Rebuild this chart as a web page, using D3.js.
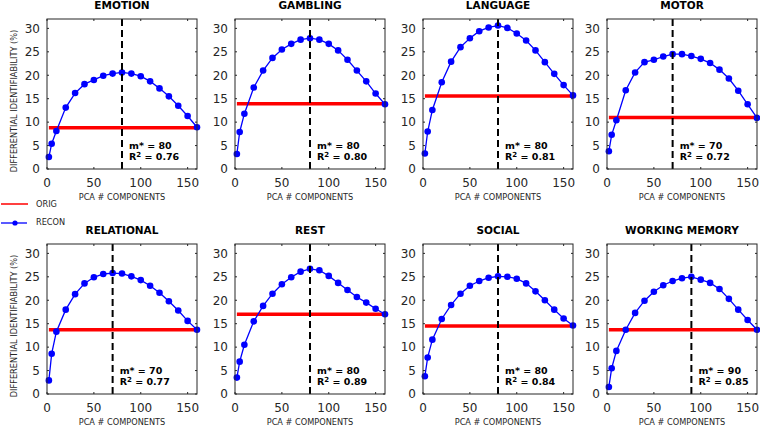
<!DOCTYPE html>
<html><head><meta charset="utf-8">
<script src="https://cdn.jsdelivr.net/npm/d3@7"></script>
<style>body{margin:0;background:#fff}svg{display:block}text{font-family:"DejaVu Sans",sans-serif}</style>
</head><body>
<script>
const comps = [2,5,10,20,30,40,50,60,70,80,90,100,110,120,130,140,150,160];
const tasks = ["EMOTION","GAMBLING","LANGUAGE","MOTOR","RELATIONAL","REST","SOCIAL","WORKING MEMORY"];
const reconEmotion    = [2.55,5.4,8.1,13.1,16.2,18.1,19.0,19.9,20.35,20.6,20.35,19.8,18.7,17.2,15.5,13.5,11.3,8.9];
const reconGambling   = [3.2,7.9,11.8,17.4,21.0,23.7,25.5,26.7,27.6,27.9,27.6,26.7,25.3,23.3,21.0,18.7,16.1,13.8];
const reconLanguage   = [3.3,8.0,12.6,18.5,22.9,26.0,27.9,29.4,30.2,30.6,30.1,28.9,27.4,25.3,22.8,20.3,17.9,15.7];
const reconMotor      = [3.8,7.3,10.4,16.8,20.6,22.8,23.3,24.0,24.5,24.5,24.1,23.5,22.6,21.2,19.3,16.7,13.8,10.9];
const reconRelational = [2.9,8.6,13.3,18.0,21.3,23.6,24.9,25.6,25.8,25.7,25.1,24.3,23.1,21.6,19.8,17.8,15.6,13.7];
const reconRest       = [3.5,6.9,10.5,15.5,18.8,21.4,23.4,24.9,26.1,26.7,26.4,25.2,23.7,22.2,20.7,19.5,18.2,17.0];
const reconSocial     = [3.8,7.8,11.6,16.0,19.0,21.4,23.1,24.1,24.8,25.1,25.0,24.6,23.6,21.9,20.0,18.0,16.1,14.6];
const reconWM         = [1.5,5.5,9.2,13.7,17.3,19.9,21.8,23.2,24.1,24.7,25.0,24.4,23.7,22.4,20.3,18.0,15.8,13.7];
const reconSeries = [reconEmotion,reconGambling,reconLanguage,reconMotor,reconRelational,reconRest,reconSocial,reconWM];
const origValues = [8.8,13.9,15.6,11.0,13.7,17.0,14.5,13.7];
const mStar = [80,80,80,70,70,80,80,90];
const r2Values = ["0.76","0.80","0.81","0.72","0.77","0.89","0.84","0.85"];
const xTicks = [0,50,100,150];
const yTicks = [0,5,10,15,20,25,30];
const xLabel = "PCA # COMPONENTS";
const yLabel = "DIFFERENTIAL IDENTIFIABILITY (%)";
const legendLabels = ["ORIG","RECON"];

const W = 760, H = 428;
const svg = d3.select("body").append("svg").attr("width", W).attr("height", H);
const colLefts = [47, 235, 423, 607];
const rowTops = [19, 244];
const pw = 150, ph = 150;
const axisCol = "#262626";

tasks.forEach((task, i) => {
  const col = i % 4, row = Math.floor(i / 4);
  const g = svg.append("g").attr("transform", `translate(${colLefts[col]},${rowTops[row]})`);
  const x = d3.scaleLinear().domain([0,160]).range([0,pw]);
  const y = d3.scaleLinear().domain([0,32]).range([ph,0]);

  // ticks inside (bottom/top/left/right)
  const tl = 2;
  xTicks.forEach(t => {
    g.append("line").attr("x1",x(t)).attr("x2",x(t)).attr("y1",ph).attr("y2",ph-tl).attr("stroke",axisCol);
    g.append("line").attr("x1",x(t)).attr("x2",x(t)).attr("y1",0).attr("y2",tl).attr("stroke",axisCol);
    g.append("text").attr("x",x(t)).attr("y",ph+17.5).attr("text-anchor","middle")
      .attr("font-size",12).attr("fill",axisCol).text(t);
  });
  yTicks.forEach(t => {
    g.append("line").attr("x1",0).attr("x2",tl).attr("y1",y(t)).attr("y2",y(t)).attr("stroke",axisCol);
    g.append("line").attr("x1",pw).attr("x2",pw-tl).attr("y1",y(t)).attr("y2",y(t)).attr("stroke",axisCol);
    g.append("text").attr("x",-7).attr("y",y(t)).attr("dy","0.36em").attr("text-anchor","end")
      .attr("font-size",12).attr("fill",axisCol).text(t);
  });

  // orig line
  const orig = origValues[i];
  g.append("path").datum([comps[0], comps[comps.length-1]])
    .attr("d", d3.line().x(d => x(d)).y(() => y(orig)))
    .attr("stroke","#ff0000").attr("stroke-width",3.5).attr("fill","none");

  // recon line + markers
  const vals = reconSeries[i];
  const pts = comps.map((c, k) => [c, vals[k]]);
  g.append("path").datum(pts)
    .attr("d", d3.line().x(d => x(d[0])).y(d => y(d[1])))
    .attr("stroke","#0000ff").attr("stroke-width",1.3).attr("fill","none");
  g.selectAll("circle.m").data(pts).enter().append("circle")
    .attr("cx", d => x(d[0])).attr("cy", d => y(d[1])).attr("r",3.3).attr("fill","#0000ff");

  // dashed m*
  g.append("line").attr("x1",x(mStar[i])).attr("x2",x(mStar[i])).attr("y1",0).attr("y2",ph)
    .attr("stroke","#000").attr("stroke-width",2).attr("stroke-dasharray","7,4");

  // frame
  g.append("rect").attr("x",0).attr("y",0).attr("width",pw).attr("height",ph)
    .attr("fill","none").attr("stroke",axisCol).attr("stroke-width",1);

  // annotations
  const tx = x(mStar[i]) + 7;
  g.append("text").attr("x",tx).attr("y",ph-20.5).attr("font-size",9.5).attr("font-weight","bold")
    .attr("fill","#000").text(`m* = ${mStar[i]}`);
  const r2t = g.append("text").attr("x",tx).attr("y",ph-9).attr("font-size",9.5).attr("font-weight","bold").attr("fill","#000");
  r2t.append("tspan").text("R");
  r2t.append("tspan").attr("font-size",7).attr("dy",-3.5).text("2");
  r2t.append("tspan").attr("dy",3.5).text(` = ${r2Values[i]}`);

  // title
  g.append("text").attr("x",pw/2).attr("y",-10).attr("text-anchor","middle")
    .attr("font-size",10.5).attr("font-weight","bold").attr("fill","#000").text(task);

  // x label
  g.append("text").attr("x",pw/2).attr("y",ph+31).attr("text-anchor","middle")
    .attr("font-size",8.2).attr("fill",axisCol).text(xLabel);

  // y label
  if (col === 0) {
    g.append("text").attr("transform",`translate(${14-colLefts[0]+3},${ph/2+7}) rotate(-90)`)
      .attr("text-anchor","middle").attr("font-size",8.2).attr("fill",axisCol).text(yLabel);
  }
});

// legend
const lg = svg.append("g");
lg.append("line").attr("x1",1).attr("x2",28).attr("y1",204).attr("y2",204).attr("stroke","#ff0000").attr("stroke-width",1.5);
lg.append("text").attr("x",36).attr("y",204).attr("dy","0.36em").attr("font-size",8.2).attr("fill",axisCol).text(legendLabels[0]);
lg.append("line").attr("x1",1).attr("x2",27).attr("y1",223).attr("y2",223).attr("stroke","#0000ff").attr("stroke-width",1.3);
lg.append("circle").attr("cx",15).attr("cy",223).attr("r",2.6).attr("fill","#0000ff");
lg.append("text").attr("x",36).attr("y",222).attr("dy","0.36em").attr("font-size",8.2).attr("fill",axisCol).text(legendLabels[1]);
</script>
</body></html>
